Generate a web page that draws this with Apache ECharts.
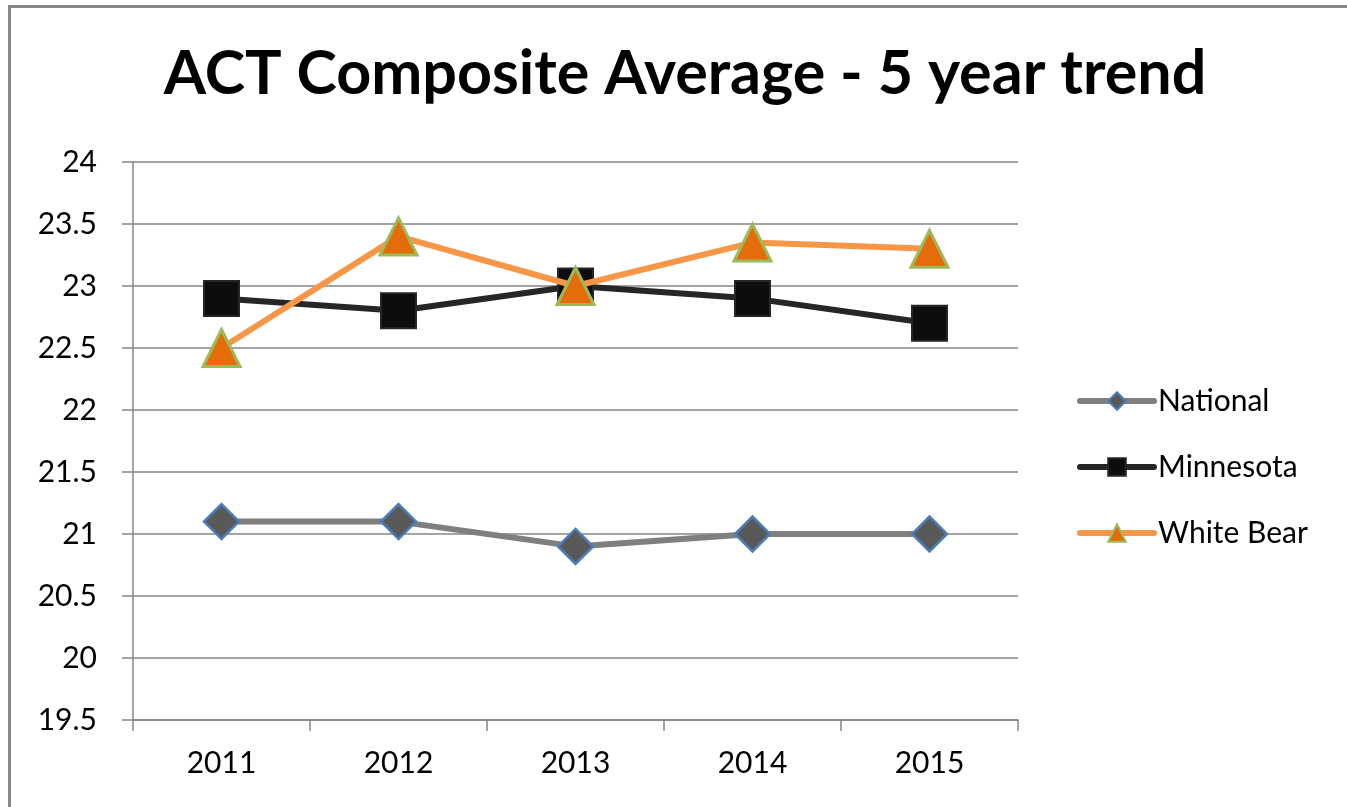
<!DOCTYPE html>
<html>
<head>
<meta charset="utf-8">
<title>ACT Composite Average</title>
<script src="https://cdn.jsdelivr.net/npm/echarts@6/dist/echarts.min.js"></script>
<style>
  html, body { margin: 0; padding: 0; background: #fff; overflow: hidden; }
  #actChart { width: 1347px; height: 807px; }
</style>
</head>
<body>
<div id="actChart"></div>
<script>
// 数据
const years = ['2011', '2012', '2013', '2014', '2015'];
const national = [21.1, 21.1, 20.9, 21.0, 21.0];
const minnesota = [22.9, 22.8, 23.0, 22.9, 22.7];
const whiteBear = [22.5, 23.4, 23.0, 23.35, 23.3];

const FONT = 'Lato, "Liberation Sans", sans-serif';

const chart = echarts.init(document.getElementById('actChart'));

const option = {
  animation: false,
  backgroundColor: '#fff',
  title: {
    text: 'ACT Composite Average - 5 year trend',
    left: 680,
    top: 39,
    textAlign: 'center',
    textStyle: { fontFamily: FONT, fontSize: 61, fontWeight: 'bold', color: '#000' },
  },
  // 外框
  graphic: [{
    type: 'rect',
    shape: { x: 9.5, y: 6.5, width: 1500, height: 1000 },
    style: { fill: 'none', stroke: '#898989', lineWidth: 3 },
    silent: true,
  }],
  legend: {
    orient: 'vertical',
    left: 1072,
    top: 381,
    itemWidth: 74,
    itemHeight: 22,
    itemGap: 36,
    lineStyle: { width: 6, cap: 'round' },
    textStyle: { fontFamily: FONT, fontSize: 30, color: '#000', padding: [0, 0, 0, -1] },
    data: ['National', 'Minnesota', 'White Bear'],
  },
  grid: { left: 133, top: 162, right: 329, bottom: 87 },
  xAxis: {
    type: 'category',
    data: years,
    boundaryGap: true,
    axisLine: { lineStyle: { color: '#868686', width: 1.5 } },
    axisTick: { show: true, length: 11, lineStyle: { color: '#868686', width: 1.5 } },
    axisLabel: { fontFamily: FONT, fontSize: 30, color: '#000', margin: 28 },
  },
  yAxis: {
    type: 'value',
    min: 19.5,
    max: 24,
    interval: 0.5,
    axisLine: { show: true, lineStyle: { color: '#868686', width: 1.5 } },
    axisTick: { show: true, length: 11, lineStyle: { color: '#868686', width: 1.5 } },
    splitLine: { lineStyle: { color: '#868686', width: 1.5 } },
    axisLabel: { fontFamily: FONT, fontSize: 30, color: '#000', margin: 36 },
  },
  series: [
    {
      name: 'National',
      type: 'line',
      data: national,
      symbol: 'diamond',
      symbolSize: 35,
      lineStyle: { color: '#7f7f7f', width: 6 },
      itemStyle: { color: '#595959', borderColor: '#4a7ebb', borderWidth: 2.5 },
      z: 2,
    },
    {
      name: 'Minnesota',
      type: 'line',
      data: minnesota,
      symbol: 'rect',
      symbolSize: 35,
      lineStyle: { color: '#262626', width: 6 },
      itemStyle: { color: '#0d0d0d', borderColor: '#262626', borderWidth: 2 },
      z: 3,
    },
    {
      name: 'White Bear',
      type: 'line',
      data: whiteBear,
      symbol: 'triangle',
      symbolSize: 37,
      lineStyle: { color: '#f79646', width: 6 },
      itemStyle: { color: '#e46c0a', borderColor: '#9bbb59', borderWidth: 3 },
      z: 4,
    },
  ],
};

chart.setOption(option);
window.onresize = chart.resize;
</script>
</body>
</html>
